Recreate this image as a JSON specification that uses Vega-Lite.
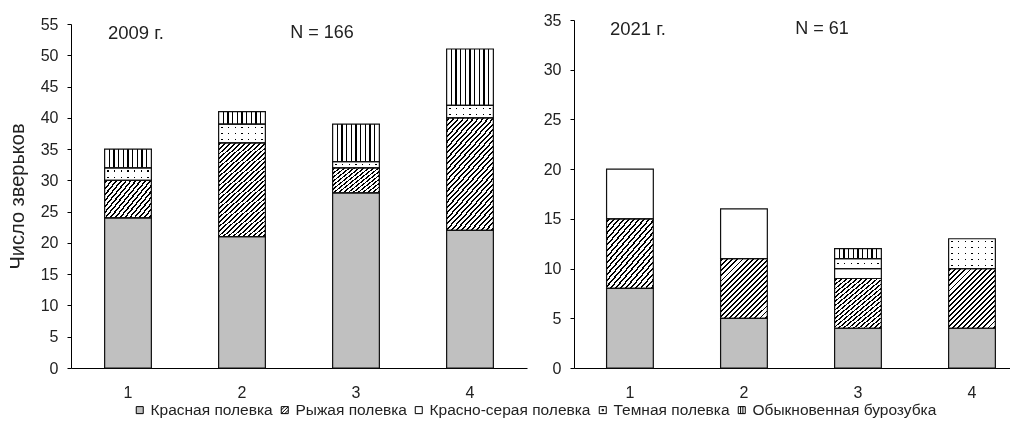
{
  "$schema": "https://vega.github.io/schema/vega-lite/v6.json",
  "padding": {"left": 7, "top": 12, "right": 0, "bottom": 0},
  "data": {
    "values": [
      {"year": "2009", "site": "1", "species": "Красная полевка", "n": 24},
      {"year": "2009", "site": "1", "species": "Рыжая полевка", "n": 6},
      {"year": "2009", "site": "1", "species": "Темная полевка", "n": 2},
      {"year": "2009", "site": "1", "species": "Обыкновенная бурозубка", "n": 3},
      {"year": "2009", "site": "2", "species": "Красная полевка", "n": 21},
      {"year": "2009", "site": "2", "species": "Рыжая полевка", "n": 15},
      {"year": "2009", "site": "2", "species": "Темная полевка", "n": 3},
      {"year": "2009", "site": "2", "species": "Обыкновенная бурозубка", "n": 2},
      {"year": "2009", "site": "3", "species": "Красная полевка", "n": 28},
      {"year": "2009", "site": "3", "species": "Рыжая полевка", "n": 4},
      {"year": "2009", "site": "3", "species": "Темная полевка", "n": 1},
      {"year": "2009", "site": "3", "species": "Обыкновенная бурозубка", "n": 6},
      {"year": "2009", "site": "4", "species": "Красная полевка", "n": 22},
      {"year": "2009", "site": "4", "species": "Рыжая полевка", "n": 18},
      {"year": "2009", "site": "4", "species": "Темная полевка", "n": 2},
      {"year": "2009", "site": "4", "species": "Обыкновенная бурозубка", "n": 9},
      {"year": "2021", "site": "1", "species": "Красная полевка", "n": 8},
      {"year": "2021", "site": "1", "species": "Рыжая полевка", "n": 7},
      {"year": "2021", "site": "1", "species": "Красно-серая полевка", "n": 5},
      {"year": "2021", "site": "2", "species": "Красная полевка", "n": 5},
      {"year": "2021", "site": "2", "species": "Рыжая полевка", "n": 6},
      {"year": "2021", "site": "2", "species": "Красно-серая полевка", "n": 5},
      {"year": "2021", "site": "3", "species": "Красная полевка", "n": 4},
      {"year": "2021", "site": "3", "species": "Рыжая полевка", "n": 5},
      {"year": "2021", "site": "3", "species": "Красно-серая полевка", "n": 1},
      {"year": "2021", "site": "3", "species": "Темная полевка", "n": 1},
      {"year": "2021", "site": "3", "species": "Обыкновенная бурозубка", "n": 1},
      {"year": "2021", "site": "4", "species": "Красная полевка", "n": 4},
      {"year": "2021", "site": "4", "species": "Рыжая полевка", "n": 6},
      {"year": "2021", "site": "4", "species": "Темная полевка", "n": 3}
    ]
  },
  "bounds": "flush",
  "spacing": 47,
  "hconcat": [
    {
      "width": 456,
      "height": 348,
      "layer": [
        {
          "transform": [
            {"filter": "datum.year === '2009'"},
            {"stack": "n", "groupby": ["site"], "as": ["y0", "y1"]}
          ],
          "encoding": {
            "x": {"field": "site", "type": "nominal", "scale": {"domain": ["1", "2", "3", "4"], "paddingInner": 0.59, "paddingOuter": 0.295}, "axis": {"title": null}},
            "y": {"field": "y0", "type": "quantitative", "scale": {"domain": [0, 55], "range": [348, 4], "nice": false}, "axis": {"title": "Число зверьков", "values": [0, 5, 10, 15, 20, 25, 30, 35, 40, 45, 50, 55]}},
            "y2": {"field": "y1"}
          },
          "layer": [
            {
              "mark": {"type": "bar", "strokeWidth": 0},
              "encoding": {"fill": {"condition": {"test": "datum.species === 'Красная полевка'", "value": "#c0c0c0"}, "value": "#ffffff"}}
            },
            {
              "transform": [{"filter": "datum.species === 'Рыжая полевка'"}],
              "mark": {"type": "bar", "strokeWidth": 0},
              "encoding": {
                "fill": {
                  "condition": {"test": "datum.n > 10", "value": {"gradient": "linear", "x1": 0, "y1": 0, "x2": 0.55, "y2": 1.2053, "stops": [
                    {"offset":0.0102,"color":"#fff"},{"offset":0.0102,"color":"#000"},{"offset":0.0232,"color":"#000"},{"offset":0.0232,"color":"#fff"},
                    {"offset":0.0435,"color":"#fff"},{"offset":0.0435,"color":"#000"},{"offset":0.0565,"color":"#000"},{"offset":0.0565,"color":"#fff"},
                    {"offset":0.0768,"color":"#fff"},{"offset":0.0768,"color":"#000"},{"offset":0.0898,"color":"#000"},{"offset":0.0898,"color":"#fff"},
                    {"offset":0.1102,"color":"#fff"},{"offset":0.1102,"color":"#000"},{"offset":0.1232,"color":"#000"},{"offset":0.1232,"color":"#fff"},
                    {"offset":0.1435,"color":"#fff"},{"offset":0.1435,"color":"#000"},{"offset":0.1565,"color":"#000"},{"offset":0.1565,"color":"#fff"},
                    {"offset":0.1768,"color":"#fff"},{"offset":0.1768,"color":"#000"},{"offset":0.1898,"color":"#000"},{"offset":0.1898,"color":"#fff"},
                    {"offset":0.2102,"color":"#fff"},{"offset":0.2102,"color":"#000"},{"offset":0.2232,"color":"#000"},{"offset":0.2232,"color":"#fff"},
                    {"offset":0.2435,"color":"#fff"},{"offset":0.2435,"color":"#000"},{"offset":0.2565,"color":"#000"},{"offset":0.2565,"color":"#fff"},
                    {"offset":0.2768,"color":"#fff"},{"offset":0.2768,"color":"#000"},{"offset":0.2898,"color":"#000"},{"offset":0.2898,"color":"#fff"},
                    {"offset":0.3102,"color":"#fff"},{"offset":0.3102,"color":"#000"},{"offset":0.3232,"color":"#000"},{"offset":0.3232,"color":"#fff"},
                    {"offset":0.3435,"color":"#fff"},{"offset":0.3435,"color":"#000"},{"offset":0.3565,"color":"#000"},{"offset":0.3565,"color":"#fff"},
                    {"offset":0.3768,"color":"#fff"},{"offset":0.3768,"color":"#000"},{"offset":0.3898,"color":"#000"},{"offset":0.3898,"color":"#fff"},
                    {"offset":0.4102,"color":"#fff"},{"offset":0.4102,"color":"#000"},{"offset":0.4232,"color":"#000"},{"offset":0.4232,"color":"#fff"},
                    {"offset":0.4435,"color":"#fff"},{"offset":0.4435,"color":"#000"},{"offset":0.4565,"color":"#000"},{"offset":0.4565,"color":"#fff"},
                    {"offset":0.4768,"color":"#fff"},{"offset":0.4768,"color":"#000"},{"offset":0.4898,"color":"#000"},{"offset":0.4898,"color":"#fff"},
                    {"offset":0.5102,"color":"#fff"},{"offset":0.5102,"color":"#000"},{"offset":0.5232,"color":"#000"},{"offset":0.5232,"color":"#fff"},
                    {"offset":0.5435,"color":"#fff"},{"offset":0.5435,"color":"#000"},{"offset":0.5565,"color":"#000"},{"offset":0.5565,"color":"#fff"},
                    {"offset":0.5768,"color":"#fff"},{"offset":0.5768,"color":"#000"},{"offset":0.5898,"color":"#000"},{"offset":0.5898,"color":"#fff"},
                    {"offset":0.6102,"color":"#fff"},{"offset":0.6102,"color":"#000"},{"offset":0.6232,"color":"#000"},{"offset":0.6232,"color":"#fff"},
                    {"offset":0.6435,"color":"#fff"},{"offset":0.6435,"color":"#000"},{"offset":0.6565,"color":"#000"},{"offset":0.6565,"color":"#fff"},
                    {"offset":0.6768,"color":"#fff"},{"offset":0.6768,"color":"#000"},{"offset":0.6898,"color":"#000"},{"offset":0.6898,"color":"#fff"},
                    {"offset":0.7102,"color":"#fff"},{"offset":0.7102,"color":"#000"},{"offset":0.7232,"color":"#000"},{"offset":0.7232,"color":"#fff"},
                    {"offset":0.7435,"color":"#fff"},{"offset":0.7435,"color":"#000"},{"offset":0.7565,"color":"#000"},{"offset":0.7565,"color":"#fff"},
                    {"offset":0.7768,"color":"#fff"},{"offset":0.7768,"color":"#000"},{"offset":0.7898,"color":"#000"},{"offset":0.7898,"color":"#fff"},
                    {"offset":0.8102,"color":"#fff"},{"offset":0.8102,"color":"#000"},{"offset":0.8232,"color":"#000"},{"offset":0.8232,"color":"#fff"},
                    {"offset":0.8435,"color":"#fff"},{"offset":0.8435,"color":"#000"},{"offset":0.8565,"color":"#000"},{"offset":0.8565,"color":"#fff"},
                    {"offset":0.8768,"color":"#fff"},{"offset":0.8768,"color":"#000"},{"offset":0.8898,"color":"#000"},{"offset":0.8898,"color":"#fff"},
                    {"offset":0.9102,"color":"#fff"},{"offset":0.9102,"color":"#000"},{"offset":0.9232,"color":"#000"},{"offset":0.9232,"color":"#fff"},
                    {"offset":0.9435,"color":"#fff"},{"offset":0.9435,"color":"#000"},{"offset":0.9565,"color":"#000"},{"offset":0.9565,"color":"#fff"},
                    {"offset":0.9768,"color":"#fff"},{"offset":0.9768,"color":"#000"},{"offset":0.9898,"color":"#000"},{"offset":0.9898,"color":"#fff"}
                  ]}},
                  "value": {"gradient": "linear", "x1": 0, "y1": 0, "x2": 1.1565, "y2": 0.7628, "stops": [
                    {"offset":0.0193,"color":"#fff"},{"offset":0.0193,"color":"#000"},{"offset":0.0433,"color":"#000"},{"offset":0.0433,"color":"#fff"},
                    {"offset":0.0818,"color":"#fff"},{"offset":0.0818,"color":"#000"},{"offset":0.1058,"color":"#000"},{"offset":0.1058,"color":"#fff"},
                    {"offset":0.1443,"color":"#fff"},{"offset":0.1443,"color":"#000"},{"offset":0.1683,"color":"#000"},{"offset":0.1683,"color":"#fff"},
                    {"offset":0.2068,"color":"#fff"},{"offset":0.2068,"color":"#000"},{"offset":0.2308,"color":"#000"},{"offset":0.2308,"color":"#fff"},
                    {"offset":0.2693,"color":"#fff"},{"offset":0.2693,"color":"#000"},{"offset":0.2933,"color":"#000"},{"offset":0.2933,"color":"#fff"},
                    {"offset":0.3318,"color":"#fff"},{"offset":0.3318,"color":"#000"},{"offset":0.3558,"color":"#000"},{"offset":0.3558,"color":"#fff"},
                    {"offset":0.3943,"color":"#fff"},{"offset":0.3943,"color":"#000"},{"offset":0.4183,"color":"#000"},{"offset":0.4183,"color":"#fff"},
                    {"offset":0.4568,"color":"#fff"},{"offset":0.4568,"color":"#000"},{"offset":0.4808,"color":"#000"},{"offset":0.4808,"color":"#fff"},
                    {"offset":0.5193,"color":"#fff"},{"offset":0.5193,"color":"#000"},{"offset":0.5433,"color":"#000"},{"offset":0.5433,"color":"#fff"},
                    {"offset":0.5818,"color":"#fff"},{"offset":0.5818,"color":"#000"},{"offset":0.6058,"color":"#000"},{"offset":0.6058,"color":"#fff"},
                    {"offset":0.6443,"color":"#fff"},{"offset":0.6443,"color":"#000"},{"offset":0.6683,"color":"#000"},{"offset":0.6683,"color":"#fff"},
                    {"offset":0.7068,"color":"#fff"},{"offset":0.7068,"color":"#000"},{"offset":0.7308,"color":"#000"},{"offset":0.7308,"color":"#fff"},
                    {"offset":0.7693,"color":"#fff"},{"offset":0.7693,"color":"#000"},{"offset":0.7933,"color":"#000"},{"offset":0.7933,"color":"#fff"},
                    {"offset":0.8318,"color":"#fff"},{"offset":0.8318,"color":"#000"},{"offset":0.8558,"color":"#000"},{"offset":0.8558,"color":"#fff"},
                    {"offset":0.8943,"color":"#fff"},{"offset":0.8943,"color":"#000"},{"offset":0.9183,"color":"#000"},{"offset":0.9183,"color":"#fff"},
                    {"offset":0.9568,"color":"#fff"},{"offset":0.9568,"color":"#000"},{"offset":0.9808,"color":"#000"},{"offset":0.9808,"color":"#fff"}
                  ]}
                }
              }
            },
            {
              "transform": [{"filter": "datum.species === 'Темная полевка'"}],
              "mark": {"type": "bar", "strokeWidth": 0},
              "encoding": {
                "fill": {
                  "condition": [
                    {"test": "datum.n === 1", "value": {"gradient": "linear", "x1": 0, "y1": 0, "x2": 0, "y2": 1, "stops": [
                      {"offset":0.41,"color":"#fff"},{"offset":0.41,"color":"#000"},{"offset":0.59,"color":"#000"},{"offset":0.59,"color":"#fff"}
                    ]}},
                    {"test": "datum.n === 2", "value": {"gradient": "linear", "x1": 0, "y1": 0, "x2": 0, "y2": 1, "stops": [
                      {"offset":0.194,"color":"#fff"},{"offset":0.194,"color":"#000"},{"offset":0.306,"color":"#000"},{"offset":0.306,"color":"#fff"},
                      {"offset":0.694,"color":"#fff"},{"offset":0.694,"color":"#000"},{"offset":0.806,"color":"#000"},{"offset":0.806,"color":"#fff"}
                    ]}}
                  ],
                  "value": {"gradient": "linear", "x1": 0, "y1": 0, "x2": 0, "y2": 1, "stops": [
                    {"offset":0.130,"color":"#fff"},{"offset":0.130,"color":"#000"},{"offset":0.204,"color":"#000"},{"offset":0.204,"color":"#fff"},
                    {"offset":0.463,"color":"#fff"},{"offset":0.463,"color":"#000"},{"offset":0.537,"color":"#000"},{"offset":0.537,"color":"#fff"},
                    {"offset":0.796,"color":"#fff"},{"offset":0.796,"color":"#000"},{"offset":0.870,"color":"#000"},{"offset":0.870,"color":"#fff"}
                  ]}
                }
              }
            },
            {
              "transform": [{"filter": "datum.species === 'Темная полевка'"}],
              "mark": {"type": "bar", "strokeWidth": 0, "blend": "lighten", "fill": {"gradient": "linear", "x1": 0, "y1": 0, "x2": 1, "y2": 0, "stops": [
                {"offset":0.0564,"color":"#fff"},{"offset":0.0564,"color":"#000"},{"offset":0.0864,"color":"#000"},{"offset":0.0864,"color":"#fff"},
                {"offset":0.1993,"color":"#fff"},{"offset":0.1993,"color":"#000"},{"offset":0.2293,"color":"#000"},{"offset":0.2293,"color":"#fff"},
                {"offset":0.3421,"color":"#fff"},{"offset":0.3421,"color":"#000"},{"offset":0.3721,"color":"#000"},{"offset":0.3721,"color":"#fff"},
                {"offset":0.4850,"color":"#fff"},{"offset":0.4850,"color":"#000"},{"offset":0.5150,"color":"#000"},{"offset":0.5150,"color":"#fff"},
                {"offset":0.6279,"color":"#fff"},{"offset":0.6279,"color":"#000"},{"offset":0.6579,"color":"#000"},{"offset":0.6579,"color":"#fff"},
                {"offset":0.7707,"color":"#fff"},{"offset":0.7707,"color":"#000"},{"offset":0.8007,"color":"#000"},{"offset":0.8007,"color":"#fff"},
                {"offset":0.9136,"color":"#fff"},{"offset":0.9136,"color":"#000"},{"offset":0.9436,"color":"#000"},{"offset":0.9436,"color":"#fff"}
              ]}}
            },
            {
              "transform": [{"filter": "datum.species === 'Обыкновенная бурозубка'"}],
              "mark": {"type": "bar", "strokeWidth": 0, "fill": {"gradient": "linear", "x1": 0, "y1": 0, "x2": 1, "y2": 0, "stops": [
                {"offset":0.088,"color":"#fff"},{"offset":0.088,"color":"#000"},{"offset":0.112,"color":"#000"},{"offset":0.112,"color":"#fff"},
                {"offset":0.188,"color":"#fff"},{"offset":0.188,"color":"#000"},{"offset":0.212,"color":"#000"},{"offset":0.212,"color":"#fff"},
                {"offset":0.288,"color":"#fff"},{"offset":0.288,"color":"#000"},{"offset":0.312,"color":"#000"},{"offset":0.312,"color":"#fff"},
                {"offset":0.388,"color":"#fff"},{"offset":0.388,"color":"#000"},{"offset":0.412,"color":"#000"},{"offset":0.412,"color":"#fff"},
                {"offset":0.488,"color":"#fff"},{"offset":0.488,"color":"#000"},{"offset":0.512,"color":"#000"},{"offset":0.512,"color":"#fff"},
                {"offset":0.588,"color":"#fff"},{"offset":0.588,"color":"#000"},{"offset":0.612,"color":"#000"},{"offset":0.612,"color":"#fff"},
                {"offset":0.688,"color":"#fff"},{"offset":0.688,"color":"#000"},{"offset":0.712,"color":"#000"},{"offset":0.712,"color":"#fff"},
                {"offset":0.788,"color":"#fff"},{"offset":0.788,"color":"#000"},{"offset":0.812,"color":"#000"},{"offset":0.812,"color":"#fff"},
                {"offset":0.888,"color":"#fff"},{"offset":0.888,"color":"#000"},{"offset":0.912,"color":"#000"},{"offset":0.912,"color":"#fff"}
              ]}}
            },
            {
              "mark": {"type": "bar", "fillOpacity": 0, "stroke": "#111", "strokeWidth": 1.2}
            },
            {
              "mark": {"type": "point", "filled": true, "opacity": 0},
              "encoding": {
                "fill": {
                  "field": "species", "type": "nominal",
                  "scale": {"domain": ["Красная полевка", "Рыжая полевка", "Красно-серая полевка", "Темная полевка", "Обыкновенная бурозубка"], "range": ["#c0c0c0", "#ffffff", "#ffffff", "#ffffff", "#ffffff"]},
                  "legend": {"title": null, "orient": "none", "legendX": 61, "legendY": 382, "direction": "horizontal", "symbolSize": 49, "labelFontSize": 15.5, "labelOffset": 3, "columnPadding": 4, "padding": 0, "labelLimit": 0, "encode": {"symbols": {"update": {"stroke": {"value": "#000"}, "strokeWidth": {"value": 1}, "opacity": {"value": 1}}}}}
                },
                "shape": {
                  "field": "species", "type": "nominal",
                  "scale": {"domain": ["Красная полевка", "Рыжая полевка", "Красно-серая полевка", "Темная полевка", "Обыкновенная бурозубка"], "range": [
                    "M-1,-1H1V1H-1Z",
                    "M-1,-1H1V1H-1Z M-1,0L0,-1 M-1,1L1,-1 M0,1L1,0",
                    "M-1,-1H1V1H-1Z",
                    "M-1,-1H1V1H-1Z M-0.2,-0.2H0.2V0.2H-0.2Z",
                    "M-1,-1H1V1H-1Z M-0.33,-1V1 M0.33,-1V1"
                  ]},
                  "legend": {"title": null, "orient": "none", "legendX": 61, "legendY": 382, "direction": "horizontal", "symbolSize": 49, "labelFontSize": 15.5, "labelOffset": 3, "columnPadding": 4, "padding": 0, "labelLimit": 0, "encode": {"symbols": {"update": {"stroke": {"value": "#000"}, "strokeWidth": {"value": 1}, "opacity": {"value": 1}}}}}
                }
              }
            }
          ]
        },
        {
          "data": {"values": [{}]},
          "mark": {"type": "text", "text": "2009 г.", "align": "left", "baseline": "middle", "dx": -20, "fontSize": 18.5, "color": "#222"},
          "encoding": {
            "x": {"datum": "1", "axis": {"title": null}},
            "y": {"datum": 53.6, "axis": {"title": "Число зверьков", "values": [0, 5, 10, 15, 20, 25, 30, 35, 40, 45, 50, 55]}}
          }
        },
        {
          "data": {"values": [{}]},
          "mark": {"type": "text", "text": "N = 166", "align": "center", "baseline": "middle", "dx": 80, "fontSize": 18, "color": "#222"},
          "encoding": {
            "x": {"datum": "2", "axis": {"title": null}},
            "y": {"datum": 53.6, "axis": {"title": "Число зверьков", "values": [0, 5, 10, 15, 20, 25, 30, 35, 40, 45, 50, 55]}}
          }
        }
      ]
    },
    {
      "width": 436,
      "height": 348,
      "layer": [
        {
          "transform": [
            {"filter": "datum.year === '2021'"},
            {"stack": "n", "groupby": ["site"], "as": ["y0", "y1"]}
          ],
          "encoding": {
            "x": {"field": "site", "type": "nominal", "scale": {"domain": ["1", "2", "3", "4"], "paddingInner": 0.59, "paddingOuter": 0.207, "align": 0.69}, "axis": {"title": null}},
            "y": {"field": "y0", "type": "quantitative", "scale": {"domain": [0, 35], "nice": false}, "axis": {"title": null, "values": [0, 5, 10, 15, 20, 25, 30, 35]}},
            "y2": {"field": "y1"}
          },
          "layer": [
            {
              "mark": {"type": "bar", "strokeWidth": 0},
              "encoding": {"fill": {"condition": {"test": "datum.species === 'Красная полевка'", "value": "#c0c0c0"}, "value": "#ffffff"}}
            },
            {
              "transform": [{"filter": "datum.species === 'Рыжая полевка'"}],
              "mark": {"type": "bar", "strokeWidth": 0, "fill": {"gradient": "linear", "x1": 0, "y1": 0, "x2": 0.8657, "y2": 1.1052, "stops": [
                {"offset":0.0148,"color":"#fff"},{"offset":0.0148,"color":"#000"},{"offset":0.0328,"color":"#000"},{"offset":0.0328,"color":"#fff"},
                {"offset":0.0624,"color":"#fff"},{"offset":0.0624,"color":"#000"},{"offset":0.0804,"color":"#000"},{"offset":0.0804,"color":"#fff"},
                {"offset":0.1100,"color":"#fff"},{"offset":0.1100,"color":"#000"},{"offset":0.1280,"color":"#000"},{"offset":0.1280,"color":"#fff"},
                {"offset":0.1577,"color":"#fff"},{"offset":0.1577,"color":"#000"},{"offset":0.1757,"color":"#000"},{"offset":0.1757,"color":"#fff"},
                {"offset":0.2053,"color":"#fff"},{"offset":0.2053,"color":"#000"},{"offset":0.2233,"color":"#000"},{"offset":0.2233,"color":"#fff"},
                {"offset":0.2529,"color":"#fff"},{"offset":0.2529,"color":"#000"},{"offset":0.2709,"color":"#000"},{"offset":0.2709,"color":"#fff"},
                {"offset":0.3005,"color":"#fff"},{"offset":0.3005,"color":"#000"},{"offset":0.3185,"color":"#000"},{"offset":0.3185,"color":"#fff"},
                {"offset":0.3481,"color":"#fff"},{"offset":0.3481,"color":"#000"},{"offset":0.3661,"color":"#000"},{"offset":0.3661,"color":"#fff"},
                {"offset":0.3958,"color":"#fff"},{"offset":0.3958,"color":"#000"},{"offset":0.4138,"color":"#000"},{"offset":0.4138,"color":"#fff"},
                {"offset":0.4434,"color":"#fff"},{"offset":0.4434,"color":"#000"},{"offset":0.4614,"color":"#000"},{"offset":0.4614,"color":"#fff"},
                {"offset":0.4910,"color":"#fff"},{"offset":0.4910,"color":"#000"},{"offset":0.5090,"color":"#000"},{"offset":0.5090,"color":"#fff"},
                {"offset":0.5386,"color":"#fff"},{"offset":0.5386,"color":"#000"},{"offset":0.5566,"color":"#000"},{"offset":0.5566,"color":"#fff"},
                {"offset":0.5862,"color":"#fff"},{"offset":0.5862,"color":"#000"},{"offset":0.6042,"color":"#000"},{"offset":0.6042,"color":"#fff"},
                {"offset":0.6339,"color":"#fff"},{"offset":0.6339,"color":"#000"},{"offset":0.6519,"color":"#000"},{"offset":0.6519,"color":"#fff"},
                {"offset":0.6815,"color":"#fff"},{"offset":0.6815,"color":"#000"},{"offset":0.6995,"color":"#000"},{"offset":0.6995,"color":"#fff"},
                {"offset":0.7291,"color":"#fff"},{"offset":0.7291,"color":"#000"},{"offset":0.7471,"color":"#000"},{"offset":0.7471,"color":"#fff"},
                {"offset":0.7767,"color":"#fff"},{"offset":0.7767,"color":"#000"},{"offset":0.7947,"color":"#000"},{"offset":0.7947,"color":"#fff"},
                {"offset":0.8243,"color":"#fff"},{"offset":0.8243,"color":"#000"},{"offset":0.8423,"color":"#000"},{"offset":0.8423,"color":"#fff"},
                {"offset":0.8720,"color":"#fff"},{"offset":0.8720,"color":"#000"},{"offset":0.8900,"color":"#000"},{"offset":0.8900,"color":"#fff"},
                {"offset":0.9196,"color":"#fff"},{"offset":0.9196,"color":"#000"},{"offset":0.9376,"color":"#000"},{"offset":0.9376,"color":"#fff"},
                {"offset":0.9672,"color":"#fff"},{"offset":0.9672,"color":"#000"},{"offset":0.9852,"color":"#000"},{"offset":0.9852,"color":"#fff"}
              ]}}
            },
            {
              "transform": [{"filter": "datum.species === 'Темная полевка'"}],
              "mark": {"type": "bar", "strokeWidth": 0},
              "encoding": {
                "fill": {
                  "condition": {"test": "datum.n === 1", "value": {"gradient": "linear", "x1": 0, "y1": 0, "x2": 0, "y2": 1, "stops": [
                    {"offset":0.43,"color":"#fff"},{"offset":0.43,"color":"#000"},{"offset":0.57,"color":"#000"},{"offset":0.57,"color":"#fff"}
                  ]}},
                  "value": {"gradient": "linear", "x1": 0, "y1": 0, "x2": 0, "y2": 1, "stops": [
                    {"offset":0.077,"color":"#fff"},{"offset":0.077,"color":"#000"},{"offset":0.123,"color":"#000"},{"offset":0.123,"color":"#fff"},
                    {"offset":0.277,"color":"#fff"},{"offset":0.277,"color":"#000"},{"offset":0.323,"color":"#000"},{"offset":0.323,"color":"#fff"},
                    {"offset":0.477,"color":"#fff"},{"offset":0.477,"color":"#000"},{"offset":0.523,"color":"#000"},{"offset":0.523,"color":"#fff"},
                    {"offset":0.677,"color":"#fff"},{"offset":0.677,"color":"#000"},{"offset":0.723,"color":"#000"},{"offset":0.723,"color":"#fff"},
                    {"offset":0.877,"color":"#fff"},{"offset":0.877,"color":"#000"},{"offset":0.923,"color":"#000"},{"offset":0.923,"color":"#fff"}
                  ]}
                }
              }
            },
            {
              "transform": [{"filter": "datum.species === 'Темная полевка'"}],
              "mark": {"type": "bar", "strokeWidth": 0, "blend": "lighten", "fill": {"gradient": "linear", "x1": 0, "y1": 0, "x2": 1, "y2": 0, "stops": [
                {"offset":0.0564,"color":"#fff"},{"offset":0.0564,"color":"#000"},{"offset":0.0864,"color":"#000"},{"offset":0.0864,"color":"#fff"},
                {"offset":0.1993,"color":"#fff"},{"offset":0.1993,"color":"#000"},{"offset":0.2293,"color":"#000"},{"offset":0.2293,"color":"#fff"},
                {"offset":0.3421,"color":"#fff"},{"offset":0.3421,"color":"#000"},{"offset":0.3721,"color":"#000"},{"offset":0.3721,"color":"#fff"},
                {"offset":0.4850,"color":"#fff"},{"offset":0.4850,"color":"#000"},{"offset":0.5150,"color":"#000"},{"offset":0.5150,"color":"#fff"},
                {"offset":0.6279,"color":"#fff"},{"offset":0.6279,"color":"#000"},{"offset":0.6579,"color":"#000"},{"offset":0.6579,"color":"#fff"},
                {"offset":0.7707,"color":"#fff"},{"offset":0.7707,"color":"#000"},{"offset":0.8007,"color":"#000"},{"offset":0.8007,"color":"#fff"},
                {"offset":0.9136,"color":"#fff"},{"offset":0.9136,"color":"#000"},{"offset":0.9436,"color":"#000"},{"offset":0.9436,"color":"#fff"}
              ]}}
            },
            {
              "transform": [{"filter": "datum.species === 'Обыкновенная бурозубка'"}],
              "mark": {"type": "bar", "strokeWidth": 0, "fill": {"gradient": "linear", "x1": 0, "y1": 0, "x2": 1, "y2": 0, "stops": [
                {"offset":0.088,"color":"#fff"},{"offset":0.088,"color":"#000"},{"offset":0.112,"color":"#000"},{"offset":0.112,"color":"#fff"},
                {"offset":0.188,"color":"#fff"},{"offset":0.188,"color":"#000"},{"offset":0.212,"color":"#000"},{"offset":0.212,"color":"#fff"},
                {"offset":0.288,"color":"#fff"},{"offset":0.288,"color":"#000"},{"offset":0.312,"color":"#000"},{"offset":0.312,"color":"#fff"},
                {"offset":0.388,"color":"#fff"},{"offset":0.388,"color":"#000"},{"offset":0.412,"color":"#000"},{"offset":0.412,"color":"#fff"},
                {"offset":0.488,"color":"#fff"},{"offset":0.488,"color":"#000"},{"offset":0.512,"color":"#000"},{"offset":0.512,"color":"#fff"},
                {"offset":0.588,"color":"#fff"},{"offset":0.588,"color":"#000"},{"offset":0.612,"color":"#000"},{"offset":0.612,"color":"#fff"},
                {"offset":0.688,"color":"#fff"},{"offset":0.688,"color":"#000"},{"offset":0.712,"color":"#000"},{"offset":0.712,"color":"#fff"},
                {"offset":0.788,"color":"#fff"},{"offset":0.788,"color":"#000"},{"offset":0.812,"color":"#000"},{"offset":0.812,"color":"#fff"},
                {"offset":0.888,"color":"#fff"},{"offset":0.888,"color":"#000"},{"offset":0.912,"color":"#000"},{"offset":0.912,"color":"#fff"}
              ]}}
            },
            {
              "mark": {"type": "bar", "fillOpacity": 0, "stroke": "#111", "strokeWidth": 1.2}
            },
            {
              "mark": {"type": "point", "filled": true, "opacity": 0},
              "encoding": {
                "fill": {
                  "field": "species", "type": "nominal",
                  "scale": {"domain": ["Красная полевка", "Рыжая полевка", "Красно-серая полевка", "Темная полевка", "Обыкновенная бурозубка"], "range": ["#c0c0c0", "#ffffff", "#ffffff", "#ffffff", "#ffffff"]},
                  "legend": {"title": null, "orient": "none", "legendX": 61, "legendY": 382, "direction": "horizontal", "symbolSize": 49, "labelFontSize": 15.5, "labelOffset": 3, "columnPadding": 4, "padding": 0, "labelLimit": 0, "encode": {"symbols": {"update": {"stroke": {"value": "#000"}, "strokeWidth": {"value": 1}, "opacity": {"value": 1}}}}}
                },
                "shape": {
                  "field": "species", "type": "nominal",
                  "scale": {"domain": ["Красная полевка", "Рыжая полевка", "Красно-серая полевка", "Темная полевка", "Обыкновенная бурозубка"], "range": [
                    "M-1,-1H1V1H-1Z",
                    "M-1,-1H1V1H-1Z M-1,0L0,-1 M-1,1L1,-1 M0,1L1,0",
                    "M-1,-1H1V1H-1Z",
                    "M-1,-1H1V1H-1Z M-0.2,-0.2H0.2V0.2H-0.2Z",
                    "M-1,-1H1V1H-1Z M-0.33,-1V1 M0.33,-1V1"
                  ]},
                  "legend": {"title": null, "orient": "none", "legendX": 61, "legendY": 382, "direction": "horizontal", "symbolSize": 49, "labelFontSize": 15.5, "labelOffset": 3, "columnPadding": 4, "padding": 0, "labelLimit": 0, "encode": {"symbols": {"update": {"stroke": {"value": "#000"}, "strokeWidth": {"value": 1}, "opacity": {"value": 1}}}}}
                }
              }
            }
          ]
        },
        {
          "data": {"values": [{}]},
          "mark": {"type": "text", "text": "2021 г.", "align": "left", "baseline": "middle", "dx": -20, "fontSize": 18.5, "color": "#222"},
          "encoding": {
            "x": {"datum": "1", "axis": {"title": null}},
            "y": {"datum": 34.1, "axis": {"title": null, "values": [0, 5, 10, 15, 20, 25, 30, 35]}}
          }
        },
        {
          "data": {"values": [{}]},
          "mark": {"type": "text", "text": "N = 61", "align": "center", "baseline": "middle", "dx": 78, "fontSize": 18, "color": "#222"},
          "encoding": {
            "x": {"datum": "2", "axis": {"title": null}},
            "y": {"datum": 34.1, "axis": {"title": null, "values": [0, 5, 10, 15, 20, 25, 30, 35]}}
          }
        }
      ]
    }
  ],
  "config": {
    "font": "Liberation Sans",
    "view": {"stroke": null},
    "axis": {
      "grid": false,
      "domainColor": "#000",
      "tickColor": "#000",
      "labelColor": "#222",
      "labelFontSize": 16,
      "titleColor": "#222",
      "titleFontSize": 20,
      "titleFontWeight": "normal"
    },
    "axisX": {"ticks": false, "labelAngle": 0, "labelPadding": 16},
    "axisY": {"tickSize": 4, "labelPadding": 9, "titlePadding": 13},
    "legend": {
      "symbolOpacity": 1,
      "labelColor": "#222"
    }
  }
}
